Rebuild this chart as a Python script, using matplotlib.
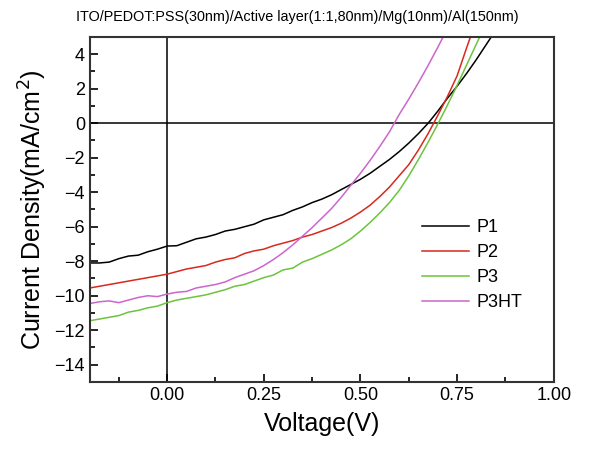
import matplotlib
matplotlib.use("Agg")
import matplotlib.pyplot as plt
from matplotlib.ticker import MultipleLocator

plt.rcParams['font.family'] = ['Liberation Sans', 'DejaVu Sans']

# voltage grid (V)
volts = [-0.200, -0.175, -0.150, -0.125, -0.100, -0.075, -0.050, -0.025,
         0.000, 0.025, 0.050, 0.075, 0.100, 0.125, 0.150, 0.175,
         0.200, 0.225, 0.250, 0.275, 0.300, 0.325, 0.350, 0.375,
         0.400, 0.425, 0.450, 0.475, 0.500, 0.525, 0.550, 0.575,
         0.600, 0.625, 0.650, 0.675, 0.700, 0.725, 0.750, 0.775,
         0.800, 0.825, 0.850]

# current density (mA/cm2)
p1 = [-8.10, -8.10, -8.05, -7.85, -7.70, -7.65, -7.45, -7.30,
      -7.12, -7.10, -6.90, -6.70, -6.60, -6.45, -6.25, -6.15,
      -6.00, -5.85, -5.60, -5.45, -5.30, -5.05, -4.85, -4.60,
      -4.40, -4.15, -3.85, -3.55, -3.25, -2.90, -2.50, -2.10,
      -1.65, -1.15, -0.60, 0.00, 0.70, 1.45, 2.15, 2.90,
      3.70, 4.55, 5.40]
p2 = [-9.55, -9.45, -9.35, -9.25, -9.15, -9.05, -8.95, -8.85,
      -8.75, -8.60, -8.45, -8.35, -8.25, -8.05, -7.90, -7.80,
      -7.55, -7.40, -7.30, -7.10, -6.95, -6.80, -6.60, -6.45,
      -6.25, -6.05, -5.80, -5.50, -5.15, -4.75, -4.25, -3.70,
      -3.05, -2.40, -1.55, -0.60, 0.45, 1.55, 2.75, 4.40,
      6.00]
p3 = [-11.45, -11.35, -11.25, -11.15, -10.95, -10.85, -10.70, -10.60,
      -10.40, -10.25, -10.15, -10.05, -9.95, -9.80, -9.65, -9.45,
      -9.35, -9.15, -8.95, -8.80, -8.50, -8.40, -8.05, -7.85,
      -7.60, -7.35, -7.05, -6.70, -6.25, -5.75, -5.20, -4.60,
      -3.90, -3.05, -2.10, -1.10, -0.05, 1.05, 2.20, 3.40,
      4.60, 5.80]
p3ht = [-10.45, -10.35, -10.30, -10.40, -10.25, -10.10, -10.00, -10.05,
        -9.90, -9.80, -9.75, -9.55, -9.45, -9.35, -9.20, -8.95,
        -8.75, -8.55, -8.25, -7.90, -7.50, -7.05, -6.55, -6.05,
        -5.50, -4.95, -4.30, -3.60, -2.90, -2.15, -1.35, -0.50,
        0.50, 1.40, 2.35, 3.35, 4.40, 5.50]

names = ['P1', 'P2', 'P3', 'P3HT']
colors = ['#000000', '#d62a1e', '#6cc43c', '#cc66cc']

fig = plt.figure(figsize=(5.91, 4.51), dpi=100)
ax = fig.add_axes([0.152, 0.153, 0.785, 0.765])

for ys, name, c in zip([p1, p2, p3, p3ht], names, colors):
    ax.plot(volts[:len(ys)], ys, color=c, lw=1.1, label=name)

ax.axhline(0, color='black', lw=1.1, zorder=0)
ax.axvline(0, color='black', lw=1.1, zorder=0)

ax.set_xlim(-0.2, 1.0)
ax.set_ylim(-15, 5)
ax.xaxis.set_major_locator(MultipleLocator(0.25))
ax.xaxis.set_minor_locator(MultipleLocator(0.125))
ax.yaxis.set_major_locator(MultipleLocator(2))
ax.yaxis.set_minor_locator(MultipleLocator(1))
ax.xaxis.set_major_formatter(plt.FormatStrFormatter('%.2f'))
ax.tick_params(which='both', direction='in', top=False, right=False, labelsize=13, width=1.2)
ax.tick_params(which='major', length=6)
ax.tick_params(which='minor', length=3.5)
for s in ax.spines.values():
    s.set_linewidth(1.5)
    s.set_color('#333333')

ax.set_xlabel('Voltage(V)', fontsize=18, labelpad=6)
ax.set_ylabel('Current Density(mA/cm$^2$)', fontsize=18, labelpad=4)
fig.text(0.503, 0.963, 'ITO/PEDOT:PSS(30nm)/Active layer(1:1,80nm)/Mg(10nm)/Al(150nm)',
         fontsize=10.4, ha='center', va='center')

ax.legend(loc='upper left', bbox_to_anchor=(0.681, 0.52), frameon=False, fontsize=13,
          handlelength=2.6, handletextpad=0.4, labelspacing=0.45)

fig.savefig('out.png', dpi=100)
